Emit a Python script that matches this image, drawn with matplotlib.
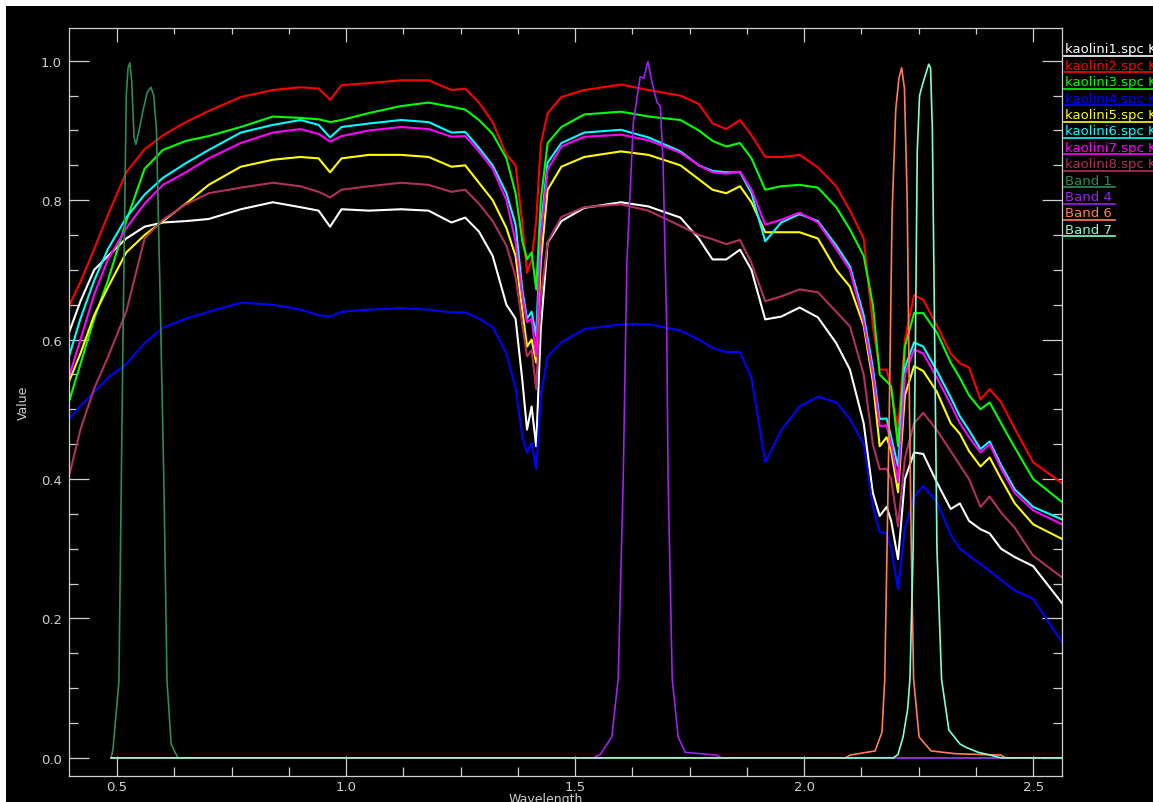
import matplotlib.pyplot as plt
from matplotlib.patches import Rectangle
from matplotlib.lines import Line2D
from matplotlib.ticker import MultipleLocator, FormatStrFormatter

W, H = 1153, 803

# common wavelength grid of the library spectra (micrometres)
wavelength = [0.395, 0.42, 0.45, 0.48, 0.52, 0.56, 0.60, 0.65, 0.70, 0.77,
              0.84, 0.90, 0.94, 0.965, 0.99, 1.05, 1.12, 1.18, 1.23, 1.26,
              1.29, 1.32, 1.35, 1.37, 1.385, 1.395, 1.405, 1.415, 1.425, 1.44,
              1.47, 1.52, 1.60, 1.66, 1.73, 1.77, 1.80, 1.83, 1.86, 1.885,
              1.915, 1.95, 1.99, 2.03, 2.07, 2.10, 2.13, 2.15, 2.165, 2.18,
              2.19, 2.205, 2.22, 2.24, 2.26, 2.29, 2.32, 2.34, 2.36, 2.385,
              2.405, 2.43, 2.46, 2.50, 2.563]

kaolini1 = [0.61, 0.655, 0.70, 0.72, 0.745, 0.762, 0.768, 0.77, 0.773, 0.787,
            0.797, 0.79, 0.785, 0.762, 0.787, 0.785, 0.787, 0.785, 0.768, 0.775,
            0.755, 0.72, 0.65, 0.63, 0.54, 0.471, 0.504, 0.447, 0.615, 0.739,
            0.77, 0.789, 0.797, 0.791, 0.775, 0.745, 0.715, 0.715, 0.729, 0.70,
            0.629, 0.633, 0.646, 0.632, 0.595, 0.557, 0.48, 0.38, 0.347, 0.36,
            0.34, 0.285, 0.40, 0.438, 0.436, 0.395, 0.357, 0.365, 0.34, 0.328,
            0.322, 0.30, 0.288, 0.275, 0.222]
kaolini2 = [0.648, 0.683, 0.73, 0.779, 0.84, 0.873, 0.893, 0.912, 0.928, 0.948,
            0.958, 0.962, 0.96, 0.944, 0.965, 0.968, 0.972, 0.972, 0.958, 0.96,
            0.94, 0.912, 0.865, 0.85, 0.765, 0.696, 0.715, 0.77, 0.88, 0.925,
            0.948, 0.958, 0.966, 0.958, 0.95, 0.938, 0.91, 0.902, 0.915, 0.893,
            0.862, 0.862, 0.865, 0.847, 0.82, 0.785, 0.745, 0.62, 0.557, 0.557,
            0.53, 0.47, 0.60, 0.664, 0.657, 0.62, 0.58, 0.566, 0.56, 0.514,
            0.529, 0.51, 0.472, 0.424, 0.394]
kaolini3 = [0.511, 0.565, 0.63, 0.685, 0.77, 0.845, 0.872, 0.885, 0.892, 0.905,
            0.92, 0.918, 0.916, 0.912, 0.915, 0.925, 0.935, 0.94, 0.934, 0.93,
            0.915, 0.895, 0.86, 0.81, 0.74, 0.715, 0.725, 0.672, 0.80, 0.882,
            0.905, 0.923, 0.927, 0.92, 0.915, 0.90, 0.885, 0.877, 0.882, 0.86,
            0.815, 0.82, 0.822, 0.818, 0.79, 0.758, 0.72, 0.65, 0.55, 0.54,
            0.533, 0.447, 0.59, 0.638, 0.638, 0.61, 0.567, 0.545, 0.52, 0.50,
            0.51, 0.48, 0.445, 0.40, 0.367]
kaolini4 = [0.486, 0.505, 0.525, 0.545, 0.565, 0.595, 0.617, 0.63, 0.64, 0.653,
            0.65, 0.643, 0.635, 0.633, 0.64, 0.643, 0.645, 0.643, 0.639, 0.639,
            0.63, 0.618, 0.58, 0.53, 0.46, 0.438, 0.452, 0.414, 0.519, 0.576,
            0.596, 0.615, 0.622, 0.622, 0.613, 0.60, 0.588, 0.582, 0.582, 0.545,
            0.424, 0.47, 0.504, 0.518, 0.51, 0.486, 0.45, 0.36, 0.324, 0.322,
            0.30, 0.242, 0.33, 0.375, 0.39, 0.367, 0.32, 0.30, 0.29, 0.278,
            0.268, 0.255, 0.24, 0.228, 0.166]
kaolini5 = [0.54, 0.58, 0.635, 0.675, 0.725, 0.75, 0.77, 0.795, 0.822, 0.848,
            0.858, 0.862, 0.86, 0.84, 0.86, 0.865, 0.865, 0.862, 0.848, 0.85,
            0.825, 0.80, 0.76, 0.72, 0.64, 0.59, 0.60, 0.567, 0.71, 0.815,
            0.848, 0.862, 0.87, 0.865, 0.85, 0.83, 0.815, 0.81, 0.82, 0.797,
            0.754, 0.754, 0.754, 0.745, 0.70, 0.676, 0.62, 0.54, 0.447, 0.46,
            0.44, 0.381, 0.52, 0.562, 0.555, 0.525, 0.48, 0.465, 0.44, 0.418,
            0.431, 0.40, 0.365, 0.335, 0.314]
kaolini6 = [0.576, 0.63, 0.685, 0.73, 0.775, 0.808, 0.832, 0.853, 0.872, 0.897,
            0.908, 0.915, 0.908, 0.89, 0.905, 0.91, 0.915, 0.912, 0.897, 0.898,
            0.875, 0.85, 0.81, 0.765, 0.67, 0.63, 0.64, 0.605, 0.76, 0.854,
            0.882, 0.897, 0.901, 0.89, 0.87, 0.85, 0.842, 0.84, 0.84, 0.81,
            0.741, 0.768, 0.78, 0.77, 0.735, 0.705, 0.635, 0.56, 0.486, 0.487,
            0.46, 0.418, 0.56, 0.596, 0.59, 0.555, 0.517, 0.49, 0.47, 0.443,
            0.454, 0.42, 0.385, 0.36, 0.342]
kaolini7 = [0.547, 0.60, 0.665, 0.715, 0.76, 0.795, 0.822, 0.84, 0.86, 0.882,
            0.897, 0.902, 0.895, 0.884, 0.892, 0.90, 0.905, 0.902, 0.891, 0.892,
            0.87, 0.845, 0.80, 0.74, 0.66, 0.625, 0.63, 0.576, 0.748, 0.844,
            0.877, 0.891, 0.894, 0.886, 0.868, 0.85, 0.84, 0.838, 0.841, 0.815,
            0.765, 0.772, 0.782, 0.768, 0.73, 0.70, 0.625, 0.55, 0.476, 0.477,
            0.45, 0.395, 0.55, 0.586, 0.58, 0.545, 0.507, 0.48, 0.46, 0.438,
            0.45, 0.415, 0.38, 0.355, 0.335]
kaolini8 = [0.404, 0.471, 0.53, 0.575, 0.64, 0.745, 0.772, 0.794, 0.81, 0.818,
            0.825, 0.82, 0.812, 0.804, 0.815, 0.82, 0.825, 0.822, 0.812, 0.815,
            0.795, 0.77, 0.735, 0.69, 0.62, 0.576, 0.585, 0.529, 0.66, 0.74,
            0.776, 0.79, 0.794, 0.785, 0.763, 0.75, 0.744, 0.737, 0.743, 0.71,
            0.655, 0.662, 0.672, 0.668, 0.64, 0.619, 0.55, 0.45, 0.414, 0.415,
            0.40, 0.332, 0.43, 0.48, 0.495, 0.47, 0.44, 0.42, 0.40, 0.36,
            0.375, 0.352, 0.33, 0.29, 0.259]

# sensor band response curves
band1_wl = [0.487, 0.491, 0.504, 0.513, 0.520, 0.524, 0.528, 0.532, 0.537, 0.541,
            0.548, 0.557, 0.566, 0.574, 0.580, 0.586, 0.594, 0.602, 0.609, 0.618,
            0.625, 0.633, 2.563]
band1 = [0.0, 0.012, 0.11, 0.61, 0.95, 0.99, 0.997, 0.97, 0.89, 0.88,
         0.90, 0.93, 0.955, 0.962, 0.95, 0.90, 0.66, 0.40, 0.11, 0.02,
         0.01, 0.0, 0.0]
band4_wl = [0.487, 1.54, 1.555, 1.58, 1.594, 1.605, 1.613, 1.627, 1.642, 1.650,
            1.659, 1.668, 1.679, 1.686, 1.692, 1.700, 1.703, 1.712, 1.725, 1.74,
            1.808, 1.82, 2.563]
band4 = [0.0, 0.0, 0.005, 0.03, 0.113, 0.40, 0.71, 0.911, 0.977, 0.975,
         0.999, 0.968, 0.94, 0.935, 0.854, 0.615, 0.40, 0.113, 0.03, 0.008,
         0.004, 0.0, 0.0]
band6_wl = [0.487, 2.09, 2.10, 2.155, 2.170, 2.176, 2.181, 2.186, 2.192, 2.200,
            2.207, 2.213, 2.219, 2.225, 2.230, 2.234, 2.239, 2.251, 2.277, 2.33,
            2.43, 2.44, 2.563]
band6 = [0.0, 0.0, 0.004, 0.01, 0.037, 0.113, 0.30, 0.50, 0.78, 0.93,
         0.975, 0.99, 0.96, 0.80, 0.50, 0.30, 0.113, 0.03, 0.01, 0.006,
         0.004, 0.0, 0.0]
band7_wl = [0.487, 2.195, 2.205, 2.216, 2.226, 2.231, 2.238, 2.243, 2.247, 2.252,
            2.258, 2.265, 2.272, 2.276, 2.280, 2.285, 2.290, 2.30, 2.316, 2.34,
            2.354, 2.38, 2.40, 2.43, 2.563]
band7 = [0.0, 0.0, 0.005, 0.03, 0.07, 0.113, 0.30, 0.60, 0.87, 0.95,
         0.965, 0.98, 0.995, 0.99, 0.90, 0.60, 0.30, 0.113, 0.04, 0.02,
         0.015, 0.008, 0.005, 0.0, 0.0]

spectra = [kaolini1, kaolini2, kaolini3, kaolini4, kaolini5, kaolini6, kaolini7, kaolini8]
spec_names = ["kaolini1.spc Kaolinite", "kaolini2.spc Kaolinite", "kaolini3.spc Kaolinite",
              "kaolini4.spc Kaolinite", "kaolini5.spc Kaolinite", "kaolini6.spc Kaolinite",
              "kaolini7.spc Kaolinite", "kaolini8.spc Kaolinite"]
spec_colors = ["#ffffff", "#ff0000", "#00ff00", "#0000ff", "#ffff00", "#00ffff", "#ff00ff", "#b03060"]
bands = [(band1_wl, band1), (band4_wl, band4), (band6_wl, band6), (band7_wl, band7)]
band_names = ["Band 1", "Band 4", "Band 6", "Band 7"]
band_colors = ["#2e8b57", "#a020f0", "#ff7f50", "#7fffd4"]

fig = plt.figure(figsize=(W / 100, H / 100), dpi=100, facecolor="white")
fig.patches.append(Rectangle((6 / W, 0), 1, 1 - 7 / H, transform=fig.transFigure,
                             facecolor="black", edgecolor="none", zorder=-10))

left, right, top, bottom = 69, 1062, 29, 777
ax = fig.add_axes([left / W, 1 - bottom / H, (right - left) / W, (bottom - top) / H])
ax.set_facecolor("black")

for vals, c in zip(spectra, spec_colors):
    ax.plot(wavelength, vals, color=c, lw=1.5)
for (bw, bv), c in zip(bands, band_colors):
    ax.plot(bw, bv, color=c, lw=1.2)

ax.set_xlim(0.395, 2.563)
ax.set_ylim(-0.026, 1.047)

fg = "#cfcfcf"
for s in ax.spines.values():
    s.set_color(fg)
    s.set_linewidth(0.9)
ax.xaxis.set_major_locator(MultipleLocator(0.5))
ax.xaxis.set_minor_locator(MultipleLocator(0.125))
ax.yaxis.set_major_locator(MultipleLocator(0.2))
ax.yaxis.set_minor_locator(MultipleLocator(0.05))
ax.xaxis.set_major_formatter(FormatStrFormatter("%.1f"))
ax.yaxis.set_major_formatter(FormatStrFormatter("%.1f"))
ax.tick_params(which="both", direction="in", colors=fg, labelcolor=fg,
               top=False, right=True, labelsize=9.5, width=0.9)
ax.tick_params(which="major", length=14.4)
ax.tick_params(which="minor", length=6.8)
ax.tick_params(axis="x", pad=3)
ax.tick_params(axis="y", pad=5)

top_ax = ax.secondary_xaxis("top")
top_ax.xaxis.set_major_locator(MultipleLocator(0.5))
top_ax.xaxis.set_minor_locator(MultipleLocator(0.125))
top_ax.tick_params(which="both", direction="in", colors=fg, labeltop=False, width=0.9)
top_ax.tick_params(which="major", length=10)
top_ax.tick_params(which="minor", length=4.5)
top_ax.spines["top"].set_visible(False)

ax.set_ylabel("Value", color=fg, fontsize=9, labelpad=8)
fig.text(546 / W, 1 - 799.5 / H, "Wavelength", color=fg, fontsize=9, ha="center", va="center")

# legend at the right, text underlined in the line colour
names = spec_names + band_names
colors = spec_colors + band_colors
for i, (name, c) in enumerate(zip(names, colors)):
    ty = 50 + i * 16.4
    fig.text(1065 / W, 1 - ty / H, name, color=c, fontsize=9.5, ha="left", va="center")
    x_end = W if i < len(spec_names) else 1115
    fig.add_artist(Line2D([1064 / W, x_end / W], [1 - (ty + 7) / H] * 2,
                          transform=fig.transFigure, color=c, lw=1.2))

fig.savefig("out.png", dpi=100, facecolor=fig.get_facecolor())
